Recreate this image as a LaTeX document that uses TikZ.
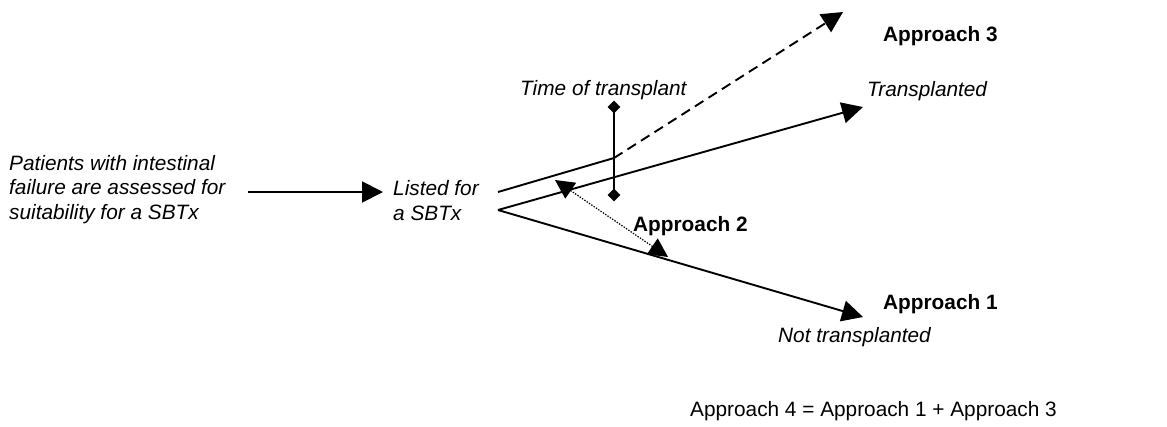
\documentclass[tikz,border=0pt]{standalone}
\usepackage{fontspec}
\setmainfont{Liberation Sans}
\usetikzlibrary{arrows.meta,shapes.geometric}
\begin{document}
\begin{tikzpicture}[x=1pt,y=-1pt,
  txt/.style={inner sep=0pt, anchor=base west, align=left, font=\fontsize{20.8}{24.5}\selectfont},
  itxt/.style={txt, font=\fontsize{20.8}{24.5}\selectfont\itshape},
  btxt/.style={txt, font=\fontsize{20.8}{24.5}\selectfont\bfseries},
  ln/.style={line width=1.9pt},
  arrtip/.style={-{Triangle[length=21pt,width=21pt]}},
  arr/.style={ln, arrtip},
  dashedln/.style={ln, dash pattern=on 10pt off 6pt},
  dottedln/.style={line width=1.2pt, dash pattern=on 1.4pt off 1.4pt,
     {Triangle[length=19pt,width=19pt]}-{Triangle[length=19pt,width=19pt]}},
  tmark/.style={diamond, fill=black, inner sep=0pt, minimum size=13pt}
]
\useasboundingbox (0,0) rectangle (1167,426);

% text (multi-line nodes: base = last line)
\node[itxt] (pat) at (9,219) {Patients with intestinal\\failure are assessed for\\suitability for a SBTx};
\node[itxt] (lst) at (393,220) {Listed for\\a SBTx};
\node[itxt] (tot) at (520,95) {Time of transplant};
\node[itxt] (trn) at (867,96) {Transplanted};
\node[btxt] (ap3) at (883,41) {Approach 3};
\node[btxt] (ap1) at (883,309) {Approach 1};
\node[itxt] (ntr) at (778,342) {Not transplanted};
\node[btxt] (ap2) at (633,231) {Approach 2};
\node[txt] (ap4) at (690,416) {Approach 4 = Approach 1 + Approach 3};

% coordinates
\coordinate (a1s) at (248,192);
\coordinate (a1e) at (383,192);
\coordinate (apexU) at (498,192);
\coordinate (kink) at (614,158);
\coordinate (tipD) at (843,12);
\coordinate (apexL) at (498,210);
\coordinate (tipT) at (863,107);
\coordinate (tipN) at (863,317);
\coordinate (p2a) at (555,180);
\coordinate (p2b) at (668,257);

% time of transplant marker
\node[tmark] (dU) at (614,107) {};
\node[tmark] (dL) at (614,195) {};
\draw[ln] (dU.center) -- (dL.center);

% connectors
\draw[arr] (a1s) -- (a1e);
\draw[ln] (apexU) -- (kink);
\draw[dashedln, arrtip] (kink) -- (tipD);
\draw[arr] (apexL) -- (tipT);
\draw[arr] (apexL) -- (tipN);
\draw[dottedln] (p2a) -- (p2b);
\end{tikzpicture}
\end{document}
